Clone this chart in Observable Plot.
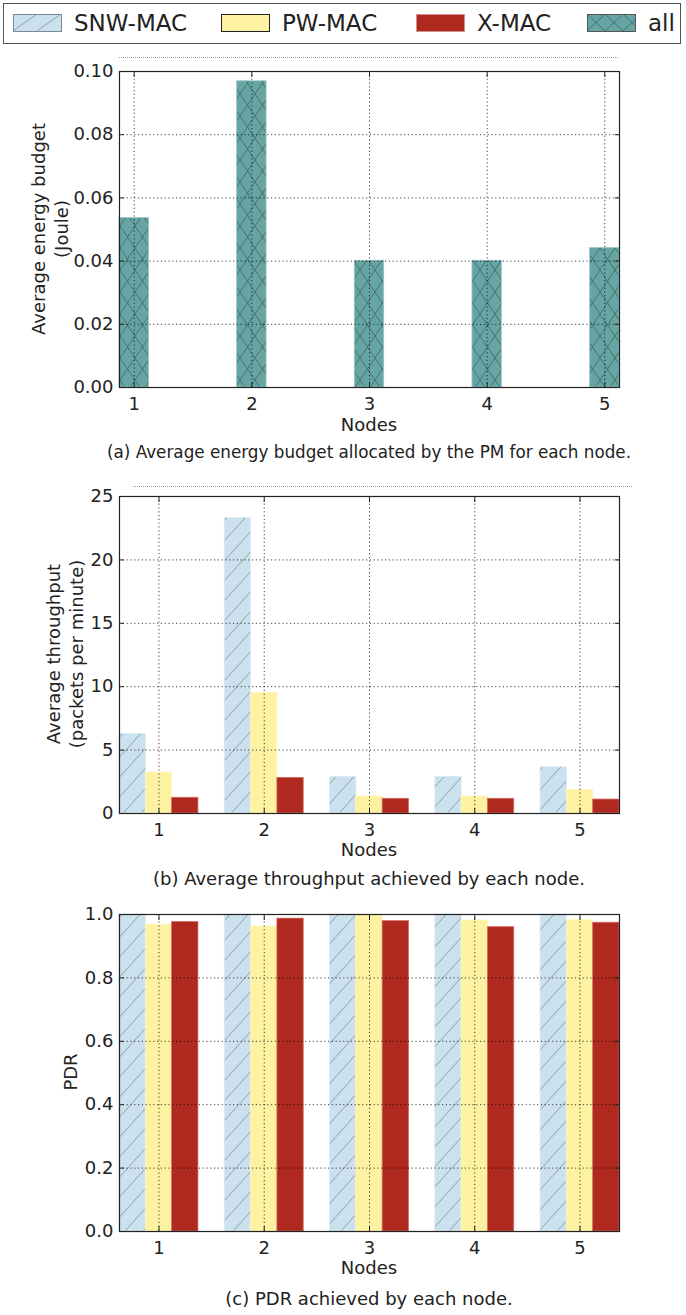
<!DOCTYPE html>
<html><head><meta charset="utf-8">
<script src="https://cdn.jsdelivr.net/npm/d3@7"></script>
<script src="https://cdn.jsdelivr.net/npm/@observablehq/plot@0.6"></script>
<style>
body{margin:0;background:#fff;font-family:"DejaVu Sans",sans-serif;color:#222;}
#page{position:relative;width:686px;height:1315px;overflow:hidden;}
.abs{position:absolute;white-space:nowrap;}
.cap{font-size:18px;line-height:18px;transform:translate(-50%,-50%);}
.capa{font-size:16.8px;line-height:18px;transform:translate(-50%,-50%);}
.ylab{font-size:18px;line-height:23px;text-align:center;transform:translate(-50%,-50%) rotate(-90deg);}
.dotline{position:absolute;height:0;border-top:1px dotted #999;}
#legend{position:absolute;left:3px;top:3px;width:678px;height:41px;border:1.5px solid #555;box-sizing:border-box;}
.litem{position:absolute;top:0;height:38px;display:flex;align-items:center;font-size:23px;}
.litem svg{margin-right:12px;}
</style></head><body>
<svg width="0" height="0" style="position:absolute">
<defs>
<pattern id="hSNW" patternUnits="userSpaceOnUse" width="18" height="20">
<rect width="18" height="20" fill="#cbe2ee"/>
<path d="M0,20L18,0M-2,2.2L2,-2.2M16,22.2L20,17.8" stroke="#7f8f9c" stroke-width="0.8"/>
</pattern>
<pattern id="hALL" patternUnits="userSpaceOnUse" width="15" height="22">
<rect width="15" height="22" fill="#67a5a5"/>
<path d="M0,0L15,22M15,0L0,22" stroke="#2d5555" stroke-width="0.8" stroke-opacity="0.8"/>
</pattern>
<pattern id="lSNW" patternUnits="userSpaceOnUse" width="24" height="17">
<rect width="24" height="17" fill="#cbe2ee"/>
<path d="M0,17L24,0M-2,1.4L2,-1.4M22,18.4L26,15.6" stroke="#7f8f9c" stroke-width="0.8"/>
</pattern>
<pattern id="lALL" patternUnits="userSpaceOnUse" width="18" height="17">
<rect width="18" height="17" fill="#67a5a5"/>
<path d="M0,0L18,17M18,0L0,17" stroke="#2d5555" stroke-width="0.8" stroke-opacity="0.8"/>
</pattern>
</defs></svg>
<div id="page"></div>
<script>
// ---- data ----
const nodes = [1, 2, 3, 4, 5];
const series = ["SNW-MAC", "PW-MAC", "X-MAC"];
const energyAll = [0.0536, 0.0969, 0.0401, 0.0401, 0.0441];
const thrSNW = [6.28, 23.3, 2.89, 2.89, 3.65];
const thrPW  = [3.23, 9.52, 1.34, 1.34, 1.86];
const thrX   = [1.24, 2.81, 1.16, 1.16, 1.10];
const pdrSNW = [1.0, 1.0, 1.0, 1.0, 1.0];
const pdrPW  = [0.968, 0.962, 0.999, 0.981, 0.983];
const pdrX   = [0.976, 0.987, 0.979, 0.960, 0.974];
const energyTicks = [0, 0.02, 0.04, 0.06, 0.08, 0.10];
const thrTicks = [0, 5, 10, 15, 20, 25];
const pdrTicks = [0, 0.2, 0.4, 0.6, 0.8, 1.0];
const captions = [
  "(a) Average energy budget allocated by the PM for each node.",
  "(b) Average throughput achieved by each node.",
  "(c) PDR achieved by each node."
];
const legendLabels = ["SNW-MAC", "PW-MAC", "X-MAC", "all"];

// ---- styles ----
const fills = {"SNW-MAC": "url(#hSNW)", "PW-MAC": "#fdf2a1", "X-MAC": "#b0291f", "all": "url(#hALL)"};
const strokes = {"SNW-MAC": "#dbeaf2", "PW-MAC": "#fdf6c0", "X-MAC": "#d06a62", "all": "#9cc4c4"};
const offs = {"SNW-MAC": -0.25, "PW-MAC": 0, "X-MAC": 0.25};
const bw = 0.25;

const page = document.getElementById("page");

function rows(arrs) {
  return nodes.flatMap((n, i) => series.map((s, j) => ({node: n, s, v: arrs[j][i]})));
}

function barMarks(data, keys, offsets) {
  return keys.map(s => Plot.rect(data.filter(d => d.s === s), {
    x1: d => d.node + offsets[s] - bw / 2,
    x2: d => d.node + offsets[s] + bw / 2,
    y1: 0, y2: "v",
    fill: fills[s], stroke: strokes[s], strokeWidth: 0.8
  }));
}

function panel({top, height, mt, mb, xDomain, yDomain, yTicks, yFmt, bars}) {
  const grid = {stroke: "#000", strokeOpacity: 0.75, strokeDasharray: "1.2,2.6", strokeWidth: 1};
  const p = Plot.plot({
    width: 686, height, marginTop: mt, marginBottom: mb, marginLeft: 119, marginRight: 67,
    x: {type: "linear", domain: xDomain},
    y: {type: "linear", domain: yDomain},
    style: {fontFamily: "DejaVu Sans", fontSize: "18px", color: "#222", background: "transparent", overflow: "visible"},
    marks: [
      ...bars,
      Plot.gridX(nodes, grid),
      Plot.gridY(yTicks, grid),
      Plot.axisX(nodes, {anchor: "bottom", tickSize: 0, tickPadding: 10, label: null, tickFormat: d => String(d)}),
      Plot.axisX(nodes, {anchor: "bottom", tickSize: -5, tickFormat: () => "", label: null, stroke: "#222"}),
      Plot.axisX(nodes, {anchor: "top", tickSize: -5, tickFormat: () => "", label: null, stroke: "#222"}),
      Plot.axisY(yTicks, {anchor: "left", tickSize: 0, tickPadding: 6, tickFormat: yFmt, label: null}),
      Plot.axisY(yTicks, {anchor: "left", tickSize: -5, tickFormat: () => "", label: null, stroke: "#222"}),
      Plot.axisY(yTicks, {anchor: "right", tickSize: -5, tickFormat: () => "", label: null, stroke: "#222"}),
      Plot.frame({stroke: "#222", strokeWidth: 1.2})
    ]
  });
  p.style.position = "absolute";
  p.style.left = "0px";
  p.style.top = top + "px";
  page.appendChild(p);
}

function addText(cls, html, x, y) {
  const d = document.createElement("div");
  d.className = "abs " + cls;
  d.innerHTML = html;
  d.style.left = x + "px";
  d.style.top = y + "px";
  page.appendChild(d);
}
function addDot(x1, x2, y) {
  const d = document.createElement("div");
  d.className = "dotline";
  d.style.left = x1 + "px"; d.style.width = (x2 - x1) + "px"; d.style.top = y + "px";
  page.appendChild(d);
}

// ---- legend ----
const lg = document.createElement("div");
lg.id = "legend";
page.appendChild(lg);
const legendX = [9, 217, 412, 583];
const legendFill = ["url(#lSNW)", "#fdf2a1", "#b0291f", "url(#lALL)"];
const legendStroke = ["#7a8a96", "#222", "#d09090", "#555"];
legendLabels.forEach((t, i) => {
  const it = document.createElement("div");
  it.className = "litem";
  it.style.left = legendX[i] + "px";
  it.innerHTML = `<svg width="49" height="18"><rect x="0.5" y="0.5" width="48" height="17" fill="${legendFill[i]}" stroke="${legendStroke[i]}" stroke-width="1"/></svg><span>${t}</span>`;
  lg.appendChild(it);
});

// ---- panel (a) ----
const energyRows = nodes.map((n, i) => ({node: n, s: "all", v: energyAll[i]}));
panel({top: 50, height: 400, mt: 21, mb: 63, xDomain: [0.875, 5.125], yDomain: [0, 0.10],
  yTicks: energyTicks, yFmt: d3.format(".2f"),
  bars: barMarks(energyRows, ["all"], {all: 0})});
addDot(119, 618, 57);
addText("ylab", "Average energy budget<br>(Joule)", 50, 229);
addText("cap", "Nodes", 369, 425);
addText("capa", captions[0], 369, 452);

// ---- panel (b) ----
panel({top: 470, height: 400, mt: 26, mb: 57, xDomain: [0.625, 5.375], yDomain: [0, 25],
  yTicks: thrTicks, yFmt: d3.format("d"),
  bars: barMarks(rows([thrSNW, thrPW, thrX]), series, offs)});
addDot(133, 632, 486);
addText("ylab", "Average throughput<br>(packets per minute)", 65, 654);
addText("cap", "Nodes", 369, 850);
addText("cap", captions[1], 369, 879);

// ---- panel (c) ----
panel({top: 890, height: 400, mt: 24, mb: 59, xDomain: [0.625, 5.375], yDomain: [0, 1],
  yTicks: pdrTicks, yFmt: d3.format(".1f"),
  bars: barMarks(rows([pdrSNW, pdrPW, pdrX]), series, offs)});
addText("ylab", "PDR", 70, 1072);
addText("cap", "Nodes", 369, 1268);
addText("cap", captions[2], 369, 1299);
</script>
</body></html>
